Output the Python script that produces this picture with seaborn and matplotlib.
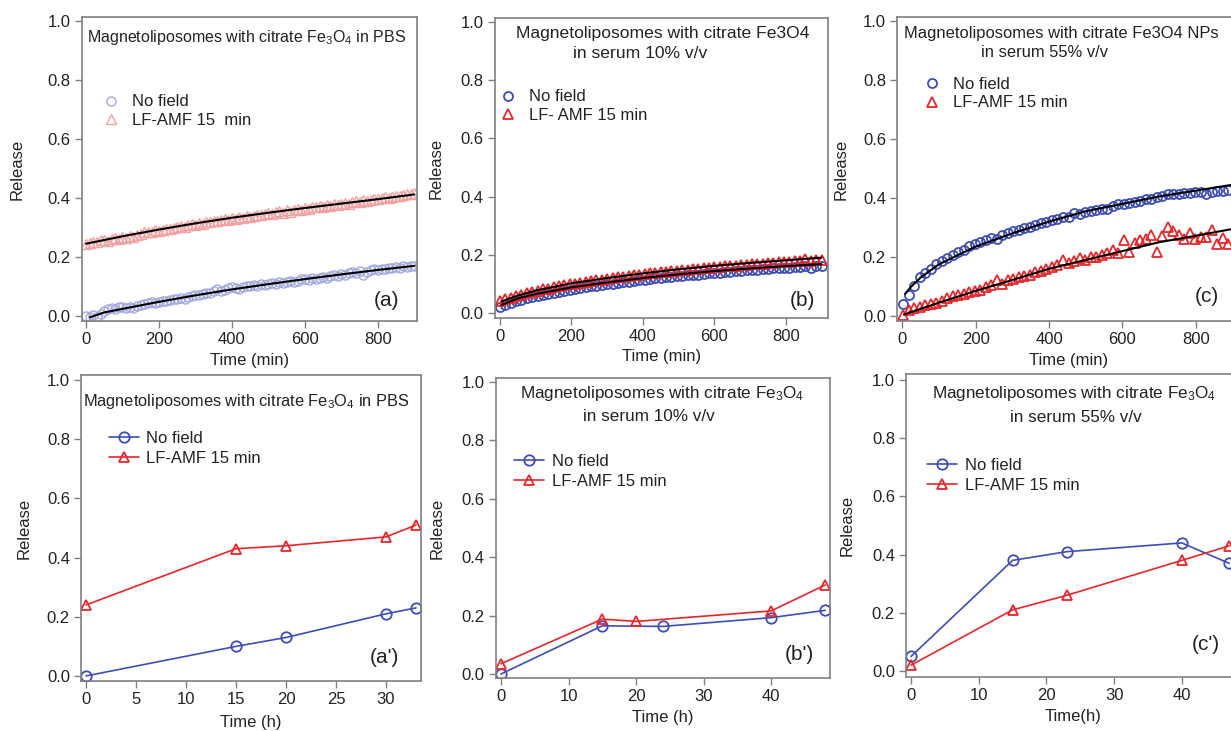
import numpy as np
import pandas as pd
import matplotlib
matplotlib.use("Agg")
import matplotlib.pyplot as plt
import seaborn as sns

# ---------------- data ----------------
# panel (a): PBS, minutes (sampled every 10 min)
t_a = list(range(0, 901, 10))
a_nofield = [0.000, -0.003, 0.002, -0.002, 0.008, 0.018, 0.024, 0.027, 0.025, 0.030,
             0.032, 0.028, 0.030, 0.027, 0.033, 0.036, 0.040, 0.044, 0.047, 0.043,
             0.048, 0.052, 0.050, 0.055, 0.058, 0.056, 0.060, 0.058, 0.063, 0.066,
             0.072, 0.070, 0.075, 0.079, 0.077, 0.083, 0.090, 0.086, 0.088, 0.094,
             0.097, 0.095, 0.092, 0.098, 0.101, 0.100, 0.104, 0.102, 0.107, 0.105,
             0.110, 0.112, 0.108, 0.114, 0.113, 0.116, 0.118, 0.115, 0.120, 0.124,
             0.126, 0.122, 0.128, 0.125, 0.130, 0.132, 0.129, 0.136, 0.140, 0.137,
             0.142, 0.140, 0.144, 0.150, 0.147, 0.152, 0.140, 0.148, 0.155, 0.158,
             0.156, 0.160, 0.158, 0.163, 0.161, 0.166, 0.164, 0.168, 0.166, 0.170,
             0.171]
a_field = [0.245, 0.248, 0.250, 0.252, 0.256, 0.258, 0.255, 0.262, 0.265, 0.262,
           0.268, 0.265, 0.270, 0.268, 0.275, 0.278, 0.283, 0.286, 0.284, 0.290,
           0.288, 0.293, 0.296, 0.294, 0.298, 0.301, 0.305, 0.302, 0.308, 0.311,
           0.310, 0.314, 0.312, 0.318, 0.320, 0.323, 0.321, 0.325, 0.328, 0.327,
           0.332, 0.330, 0.336, 0.333, 0.338, 0.335, 0.340, 0.343, 0.341, 0.346,
           0.350, 0.345, 0.352, 0.356, 0.350, 0.358, 0.354, 0.358, 0.362, 0.360,
           0.366, 0.363, 0.370, 0.368, 0.373, 0.371, 0.376, 0.373, 0.378, 0.375,
           0.380, 0.383, 0.381, 0.386, 0.389, 0.387, 0.392, 0.390, 0.394, 0.397,
           0.395, 0.399, 0.402, 0.400, 0.404, 0.408, 0.406, 0.410, 0.412, 0.414,
           0.416]
fit_t_a = [10, 50, 100, 200, 300, 400, 500, 600, 700, 800, 900]
fit_a_nofield = [-0.005, 0.012, 0.024, 0.048, 0.070, 0.090, 0.108, 0.125, 0.141, 0.156, 0.170]
fit_t_a2 = [0, 100, 200, 300, 400, 500, 600, 700, 800, 900]
fit_a_field = [0.245, 0.270, 0.293, 0.314, 0.333, 0.350, 0.366, 0.381, 0.396, 0.412]

# panel (b): serum 10%, minutes (every 15 min)
t_b = list(range(0, 901, 15))
b_nofield = [0.020, 0.027, 0.033, 0.040, 0.045, 0.050, 0.055, 0.059, 0.063, 0.066,
             0.070, 0.073, 0.077, 0.080, 0.083, 0.086, 0.089, 0.091, 0.094, 0.097,
             0.099, 0.101, 0.104, 0.106, 0.108, 0.110, 0.113, 0.115, 0.117, 0.119,
             0.121, 0.122, 0.124, 0.126, 0.128, 0.129, 0.131, 0.132, 0.134, 0.136,
             0.137, 0.139, 0.140, 0.142, 0.143, 0.145, 0.146, 0.147, 0.149, 0.150,
             0.151, 0.153, 0.154, 0.155, 0.156, 0.158, 0.159, 0.160, 0.156, 0.162,
             0.163]
b_field = [0.040, 0.047, 0.053, 0.058, 0.063, 0.068, 0.073, 0.077, 0.081, 0.084,
           0.088, 0.091, 0.095, 0.098, 0.101, 0.104, 0.107, 0.109, 0.112, 0.115,
           0.117, 0.120, 0.122, 0.125, 0.127, 0.129, 0.132, 0.134, 0.136, 0.138,
           0.140, 0.142, 0.143, 0.145, 0.147, 0.149, 0.150, 0.152, 0.153, 0.155,
           0.157, 0.158, 0.160, 0.161, 0.163, 0.164, 0.166, 0.167, 0.168, 0.170,
           0.171, 0.172, 0.174, 0.175, 0.176, 0.177, 0.178, 0.184, 0.180, 0.182,
           0.183]
fit_t_b = [5, 50, 100, 200, 300, 400, 500, 600, 700, 800, 900]
fit_b_nofield = [0.028, 0.050, 0.065, 0.088, 0.105, 0.120, 0.133, 0.144, 0.153, 0.161, 0.168]
fit_b_field = [0.040, 0.060, 0.077, 0.102, 0.120, 0.136, 0.150, 0.162, 0.172, 0.181, 0.190]

# panel (c): serum 55%, minutes (every 15 min)
t_c = list(range(3, 889, 15))
c_nofield = [0.040, 0.072, 0.103, 0.133, 0.145, 0.160, 0.175, 0.187, 0.197, 0.207,
             0.218, 0.225, 0.238, 0.244, 0.250, 0.258, 0.263, 0.262, 0.275, 0.280,
             0.287, 0.291, 0.297, 0.302, 0.310, 0.315, 0.320, 0.326, 0.330, 0.336,
             0.335, 0.350, 0.346, 0.352, 0.355, 0.360, 0.362, 0.364, 0.372, 0.378,
             0.380, 0.384, 0.386, 0.390, 0.397, 0.396, 0.402, 0.406, 0.412, 0.413,
             0.412, 0.418, 0.418, 0.421, 0.419, 0.414, 0.420, 0.423, 0.425, 0.427]
c_field = [0.003, 0.020, 0.026, 0.032, 0.036, 0.040, 0.045, 0.052, 0.062, 0.068,
           0.070, 0.075, 0.081, 0.086, 0.088, 0.097, 0.104, 0.122, 0.107, 0.122,
           0.127, 0.131, 0.136, 0.140, 0.150, 0.154, 0.158, 0.165, 0.174, 0.190,
           0.179, 0.188, 0.196, 0.190, 0.199, 0.201, 0.207, 0.213, 0.222, 0.213,
           0.256, 0.216, 0.247, 0.258, 0.261, 0.275, 0.218, 0.271, 0.303, 0.288,
           0.275, 0.260, 0.281, 0.260, 0.267, 0.267, 0.292, 0.243, 0.265, 0.243]
fit_t_c1 = [8, 25, 50, 100, 150, 200, 300, 400, 500, 600, 700, 800, 900]
fit_c_nofield = [0.075, 0.100, 0.130, 0.175, 0.205, 0.235, 0.280, 0.320, 0.355, 0.380, 0.405, 0.425, 0.445]
fit_t_c2 = [5, 100, 200, 300, 400, 500, 600, 700, 800, 900]
fit_c_field = [0.005, 0.045, 0.085, 0.122, 0.160, 0.190, 0.220, 0.250, 0.272, 0.295]

# lower panels, hours
h_a_nofield = [0, 15, 20, 30, 33]
ap_nofield = [0.00, 0.10, 0.13, 0.21, 0.23]
h_a_field = [0, 15, 20, 30, 33]
ap_field = [0.24, 0.43, 0.44, 0.47, 0.51]

h_b_nofield = [0, 15, 24, 40, 48]
bp_nofield = [0.000, 0.165, 0.163, 0.193, 0.218]
h_b_field = [0, 15, 20, 40, 48]
bp_field = [0.035, 0.188, 0.180, 0.216, 0.305]

h_c_nofield = [0, 15, 23, 40, 47]
cp_nofield = [0.05, 0.38, 0.41, 0.44, 0.37]
h_c_field = [0, 15, 23, 40, 47]
cp_field = [0.02, 0.21, 0.26, 0.38, 0.43]

lab_nofield = "No field"
lab_field = "LF-AMF 15 min"

# ---------------- style ----------------
sns.set_theme(style="white")
plt.rcParams["font.family"] = ["Liberation Sans", "DejaVu Sans"]
plt.rcParams["mathtext.fontset"] = "custom"
plt.rcParams["mathtext.rm"] = "Liberation Sans"
plt.rcParams["mathtext.it"] = "Liberation Sans"

BLUE = "#3d4db5"
RED = "#e8262a"
LBLUE = "#a3aade"
LRED = "#f0a3a3"
GRAY = "#808080"
TXT = "#222222"
FS = 12

fig = plt.figure(figsize=(12.31, 7.31), dpi=100)


def style_axes(ax, xlim, ylim, xticks):
    ax.set_xlim(*xlim)
    ax.set_ylim(*ylim)
    ax.set_xticks(xticks)
    ax.set_yticks([0.0, 0.2, 0.4, 0.6, 0.8, 1.0])
    ax.set_yticklabels(["0.0", "0.2", "0.4", "0.6", "0.8", "1.0"])
    for s in ax.spines.values():
        s.set_color(GRAY)
        s.set_linewidth(1.2)
        s.set_visible(True)
    ax.tick_params(axis="both", which="both", direction="out", length=5, width=1.0,
                   color=GRAY, labelsize=FS, labelcolor=TXT, pad=3,
                   bottom=True, left=True, top=False, right=False)
    ax.grid(False)
    ax.set_facecolor("white")


def scatter_series(ax, x, y, color, marker, label, ms, mew, alpha=1.0):
    df = pd.DataFrame({"x": x, "y": y})
    sns.lineplot(data=df, x="x", y="y", ax=ax, linestyle="none", marker=marker,
                 markersize=ms, markerfacecolor="none", markeredgecolor=color,
                 markeredgewidth=mew, color=color, alpha=alpha, label=label,
                 errorbar=None, sort=False)


def fit_line(ax, x, y):
    df = pd.DataFrame({"x": x, "y": y})
    sns.lineplot(data=df, x="x", y="y", ax=ax, color="black", linewidth=1.5,
                 errorbar=None, legend=False)


def line_series(ax, x, y, color, marker, label):
    df = pd.DataFrame({"x": x, "y": y})
    sns.lineplot(data=df, x="x", y="y", ax=ax, color=color, linewidth=1.2,
                 marker=marker, markersize=7.5, markerfacecolor="none",
                 markeredgecolor=color, markeredgewidth=1.3, label=label,
                 errorbar=None)


def finish(ax, xlabel, xl_y, yl_x, title_lines, tfs, panel, panel_xy, leg_xy, is_line):
    ax.set_xlabel(xlabel, fontsize=FS, color=TXT)
    ax.set_ylabel("Release", fontsize=FS, color=TXT)
    ax.xaxis.set_label_coords(0.5, xl_y)
    ax.yaxis.set_label_coords(yl_x, 0.5)
    for (tx, tyy, txt) in title_lines:
        ax.text(tx, tyy, txt, transform=ax.transAxes, ha="center", va="center",
                fontsize=tfs, color=TXT)
    ax.text(panel_xy[0], panel_xy[1], panel, transform=ax.transAxes, ha="center",
            va="center", fontsize=15, color=TXT)
    h, l = ax.get_legend_handles_labels()
    ax.legend(h, l, loc="upper left", bbox_to_anchor=leg_xy, frameon=False,
              fontsize=FS, borderpad=0,
              labelspacing=0.3 if is_line else 0.2,
              handletextpad=0.45 if is_line else 0.6,
              handlelength=1.8 if is_line else 1.3,
              borderaxespad=0, labelcolor=TXT)


# (a)
ax = fig.add_axes([0.0666, 0.5609, 0.2721, 0.4159])
scatter_series(ax, t_a, a_nofield, LBLUE, "o", lab_nofield, 6.5, 1.0)
scatter_series(ax, t_a, a_field, LRED, "^", "LF-AMF 15  min", 6.5, 1.0)
fit_line(ax, fit_t_a, fit_a_nofield)
fit_line(ax, fit_t_a2, fit_a_field)
style_axes(ax, (-11, 907), (-0.017, 1.0136), [0, 200, 400, 600, 800])
finish(ax, "Time (min)", -0.105, -0.17,
       [(0.49, 0.931, r"Magnetoliposomes with citrate Fe$_3$O$_4$ in PBS")], 11.5,
       "(a)", (0.91, 0.069), (0.055, 0.745), False)

# (b)
ax = fig.add_axes([0.4021, 0.5650, 0.2705, 0.4104])
scatter_series(ax, t_b, b_nofield, BLUE, "o", lab_nofield, 6.5, 1.3)
scatter_series(ax, t_b, b_field, RED, "^", "LF- AMF 15 min", 6.5, 1.3)
fit_line(ax, fit_t_b, fit_b_nofield)
fit_line(ax, fit_t_b, fit_b_field)
style_axes(ax, (-14, 918), (-0.0172, 1.0137), [0, 200, 400, 600, 800])
finish(ax, "Time (min)", -0.105, -0.155,
       [(0.503, 0.947, "Magnetoliposomes with citrate Fe3O4"),
        (0.435, 0.883, "in serum 10% v/v")], 12.6,
       "(b)", (0.922, 0.057), (0.008, 0.762), False)

# (c)
ax = fig.add_axes([0.7287, 0.5609, 0.2786, 0.4159])
scatter_series(ax, t_c, c_nofield, BLUE, "o", lab_nofield, 6.5, 1.3)
scatter_series(ax, t_c, c_field, RED, "^", lab_field, 6.5, 1.3)
fit_line(ax, fit_t_c1, fit_c_nofield)
fit_line(ax, fit_t_c2, fit_c_field)
style_axes(ax, (-14, 920), (-0.017, 1.0136), [0, 200, 400, 600, 800])
finish(ax, "Time (min)", -0.105, -0.14,
       [(0.48, 0.944, "Magnetoliposomes with citrate Fe3O4 NPs"),
        (0.431, 0.882, "in serum 55% v/v")], 11.85,
       "(c)", (0.902, 0.079), (0.07, 0.802), False)

# (a')
ax = fig.add_axes([0.0658, 0.0684, 0.2762, 0.4186])
line_series(ax, h_a_nofield, ap_nofield, BLUE, "o", lab_nofield)
line_series(ax, h_a_field, ap_field, RED, "^", lab_field)
style_axes(ax, (-0.5, 33.5), (-0.017, 1.017), [0, 5, 10, 15, 20, 25, 30])
finish(ax, "Time (h)", -0.11, -0.145,
       [(0.487, 0.915, r"Magnetoliposomes with citrate Fe$_3$O$_4$ in PBS")], 11.75,
       "(a')", (0.891, 0.078), (0.082, 0.818), True)

# (b')
ax = fig.add_axes([0.4029, 0.0725, 0.2713, 0.4104])
line_series(ax, h_b_nofield, bp_nofield, BLUE, "o", lab_nofield)
line_series(ax, h_b_field, bp_field, RED, "^", lab_field)
style_axes(ax, (-0.74, 48.7), (-0.0137, 1.0137), [0, 10, 20, 30, 40])
finish(ax, "Time (h)", -0.105, -0.155,
       [(0.497, 0.95, r"Magnetoliposomes with citrate Fe$_3$O$_4$"),
        (0.458, 0.873, "in serum 10% v/v")], 12.3,
       "(b')", (0.907, 0.077), (0.054, 0.748), True)

# (c')
ax = fig.add_axes([0.7360, 0.0739, 0.2713, 0.4145])
line_series(ax, h_c_nofield, cp_nofield, BLUE, "o", lab_nofield)
line_series(ax, h_c_field, cp_field, RED, "^", lab_field)
style_axes(ax, (-0.74, 48.6), (-0.0206, 1.0206), [0, 10, 20, 30, 40])
finish(ax, "Time(h)", -0.105, -0.155,
       [(0.503, 0.934, r"Magnetoliposomes with citrate Fe$_3$O$_4$"),
        (0.509, 0.858, "in serum 55% v/v")], 12.3,
       "(c')", (0.898, 0.106), (0.063, 0.723), True)

fig.savefig("out.png", dpi=100, facecolor="white")
